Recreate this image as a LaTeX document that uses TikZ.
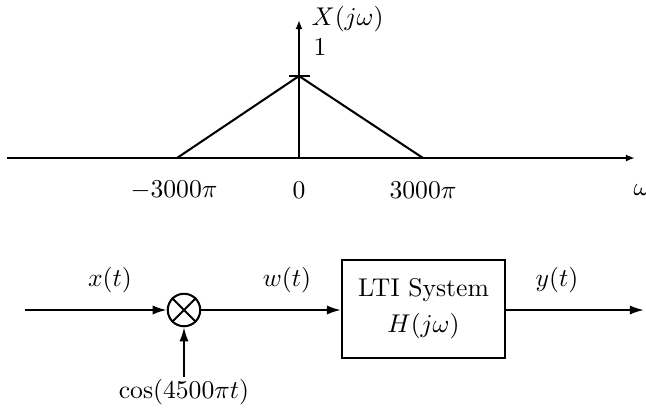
\documentclass[tikz,border=0pt]{standalone}
\usetikzlibrary{arrows.meta}
\begin{document}
\begin{tikzpicture}[x=0.39pt,y=-0.39pt,
  ln/.style={line width=0.8pt},
  sig/.style={ln,-{Latex[length=5.5pt,width=3.6pt]}},
  ax/.style={ln,-{Latex[length=3.6pt,width=2.8pt]}},
  lbl/.style={inner sep=0pt}]
\useasboundingbox (0,0) rectangle (646,408);
% ---- spectrum ----
\coordinate (axL) at (7,158);
\coordinate (axR) at (635,158);
\coordinate (orig) at (299,158);
\coordinate (vtop) at (299,20);
\coordinate (pk) at (299,76);
\coordinate (lft) at (177,158);
\coordinate (rgt) at (423,158);
\draw[ax] (axL) -- (axR);
\draw[ax] (orig) -- (vtop);
\draw[ln] (lft) -- (pk) -- (rgt);
\draw[ln] (289,76) -- (310,76);
\node[lbl,anchor=west] (Xl) at (311,19) {$X(j\omega)$};
\node[lbl] (one) at (320,47) {$1$};
\node[lbl] (m3) at (174,190) {$-3000\pi$};
\node[lbl] (z) at (299,190) {$0$};
\node[lbl] (p3) at (423,190) {$3000\pi$};
\node[lbl,anchor=west] (w) at (633,190) {$\omega$};
% ---- block diagram ----
\coordinate (in) at (25,310);
\node[draw,ln,circle,minimum size=32.5*0.39pt,inner sep=0pt] (mul) at (184,310) {};
\draw[ln] (mul.45) -- (mul.225) (mul.135) -- (mul.315);
\node[draw,ln,minimum width=163*0.39pt,minimum height=98*0.39pt,align=center,inner sep=0pt] (sys) at (423.5,309) {LTI System\\[2pt]$H(j\omega)$};
\coordinate (out) at (644,310);
\node[lbl] (cosl) at (184,392) {$\cos(4500\pi t)$};
\draw[sig] (in) -- (mul);
\draw[sig] (mul) -- (sys.west |- mul);
\draw[sig] (sys.east |- mul) -- (out);
\draw[sig] (cosl.north -| mul) ++(0,-2) -- (mul.south);
\node[lbl] (xl) at (110,280) {$x(t)$};
\node[lbl] (wl) at (287,280) {$w(t)$};
\node[lbl] (yl) at (557,280) {$y(t)$};
\end{tikzpicture}
\end{document}
